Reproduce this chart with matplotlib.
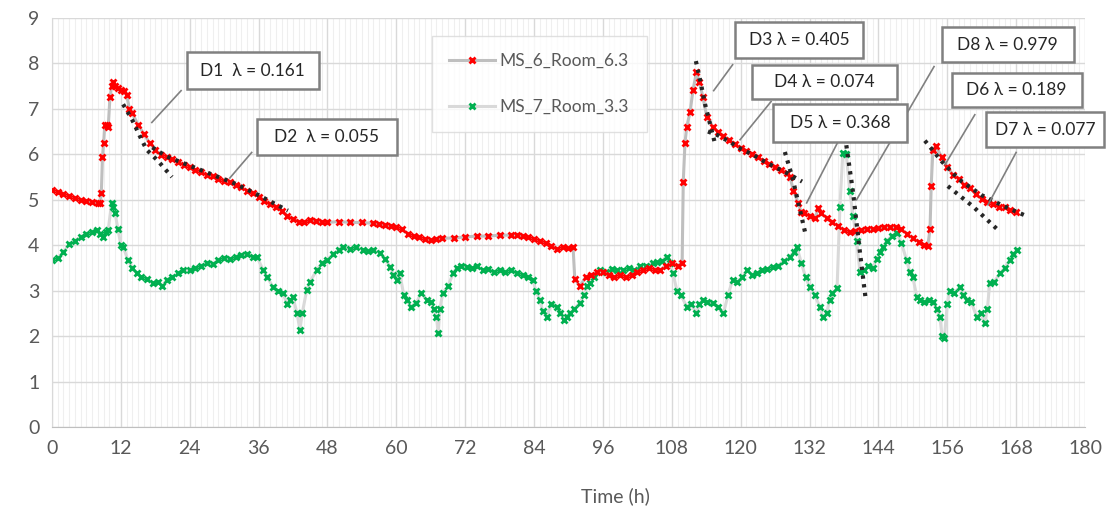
import numpy as np
import matplotlib
matplotlib.use("Agg")
from matplotlib import pyplot as plt
from matplotlib.patches import Rectangle
from matplotlib.ticker import MultipleLocator

plt.rcParams['font.family'] = ['Lato', 'DejaVu Sans']

# MS_6_Room_6.3 (red)
t_ms6 = [0, 1, 2, 3, 4, 5, 6, 7, 8, 8.4, 8.6, 8.8, 9.0, 9.2, 9.5, 9.8, 10.1, 10.4, 10.7, 11.0,
         11.5, 12.0, 12.5, 13.0, 13.5, 14, 15, 16, 17, 18, 19, 20, 21, 22, 23, 24, 25, 26, 27, 28,
         29, 30, 31, 32, 33, 34, 35, 36, 37, 38, 39, 40, 41, 42, 43, 44, 45, 46, 47, 48,
         50, 52, 54, 56, 57, 58, 59, 60, 61, 62, 63, 64, 65, 66, 67, 68, 70, 72, 74, 76,
         78, 80, 81, 82, 83, 84, 85, 86, 87, 88, 89, 90, 90.8, 91.1, 92, 93, 94, 95, 96, 97,
         98, 99, 100, 101, 102, 103, 104, 105, 106, 107, 108, 109, 109.8, 110.0, 110.3, 110.6,
         111.2, 111.7, 112.3, 112.8, 113.4, 114.1, 115.2, 116, 117, 118, 119, 120, 121, 122,
         123, 124, 125, 126, 127, 128, 128.6, 129.2, 130, 130.6, 131, 132, 133, 133.5, 134, 135,
         136, 137, 138, 139, 140, 141, 142, 143, 144, 145, 146, 147, 148, 149, 150, 151, 152,
         152.6, 153.0, 153.2, 153.5, 154.0, 155, 156, 157, 158, 159, 160, 161, 162, 163, 164,
         165, 166, 167, 168]
v_ms6 = [5.22, 5.18, 5.13, 5.08, 5.04, 5.0, 4.97, 4.94, 4.92, 4.92, 5.15, 5.95, 6.25, 6.65, 6.65,
         6.6, 7.25, 7.5, 7.6, 7.5, 7.45, 7.42, 7.4, 7.3, 7.0, 6.9, 6.65, 6.45, 6.25, 6.1, 5.98,
         5.93, 5.9, 5.83, 5.77, 5.72, 5.66, 5.6, 5.55, 5.52, 5.46, 5.42, 5.38, 5.33, 5.27, 5.2,
         5.15, 5.07, 4.98, 4.9, 4.85, 4.75, 4.65, 4.58, 4.52, 4.5, 4.55, 4.53, 4.52, 4.5,
         4.52, 4.5, 4.5, 4.48, 4.47, 4.45, 4.43, 4.4, 4.35, 4.25, 4.2, 4.17, 4.13, 4.12, 4.14,
         4.15, 4.16, 4.18, 4.2, 4.2, 4.22, 4.22, 4.23, 4.2, 4.17, 4.14, 4.1, 4.05, 3.98, 3.92,
         3.95, 3.94, 3.95, 3.25, 3.1, 3.3, 3.35, 3.4, 3.4, 3.35, 3.3, 3.35, 3.3, 3.35, 3.4, 3.45,
         3.5, 3.45, 3.45, 3.55, 3.6, 3.55, 3.6, 5.4, 6.25, 6.6, 6.94, 7.42, 7.8, 7.6, 7.27, 6.83,
         6.6, 6.5, 6.4, 6.32, 6.22, 6.14, 6.08, 6.0, 5.93, 5.85, 5.78, 5.72, 5.66, 5.58, 5.5,
         5.2, 4.93, 4.72, 4.7, 4.65, 4.6, 4.82, 4.7, 4.6, 4.5, 4.42, 4.33, 4.3, 4.32, 4.33, 4.35,
         4.36, 4.37, 4.4, 4.4, 4.4, 4.35, 4.25, 4.15, 4.08, 4.0, 3.98, 4.35, 5.3, 6.1, 6.18,
         5.95, 5.72, 5.55, 5.45, 5.33, 5.25, 5.12, 5.02, 4.95, 4.9, 4.85, 4.83, 4.78, 4.74]

# MS_7_Room_3.3 (green)
t_ms7 = [0, 1, 2, 3, 4, 5, 6, 7, 7.8, 8.4, 8.9, 9.4, 9.8, 10.4, 10.7, 11.0, 11.5, 12.0, 12.4,
         13.2, 14, 14.8, 15.5, 16.5, 17.6, 18.5, 19.2, 20, 21, 22, 22.8, 24, 25, 26, 27, 28,
         29, 30, 31, 32, 33, 34, 35, 35.7, 36.8, 37.5, 38.5, 39.3, 40.2, 41, 41.5, 42, 42.7,
         43.2, 43.6, 44.4, 45, 46.1, 47, 47.9, 49, 50, 50.7, 52, 53, 54.2, 55, 56, 57.1, 58,
         58.9, 59.5, 60.2, 60.6, 61.3, 61.8, 62.5, 63.5, 64.3, 65.3, 66, 66.5, 67, 67.3, 67.6,
         68.1, 69, 69.9, 70.5, 71.3, 72.3, 73.2, 74, 75.1, 76, 77, 78, 79, 80, 81, 82, 83,
         83.8, 84.3, 85, 85.5, 86.2, 87, 88, 88.6, 89.3, 89.7, 90.2, 91, 92, 92.7, 93.3, 93.7,
         94.5, 95.5, 96.5, 97.5, 98.5, 99.5, 100.5, 101.5, 102.5, 103.5, 104.7, 105.5, 106.3,
         107.1, 107.7, 108.2, 108.9, 109.6, 110.6, 111.3, 112.3, 112.8, 113.4, 114.2, 115.2,
         116, 117, 117.8, 118.6, 119.4, 120.3, 121.1, 122, 122.8, 123.7, 124.6, 125.6, 126.5,
         127.5, 128.6, 129.3, 129.8, 130.6, 131.3, 132, 132.9, 133.8, 134.3, 135, 135.5, 136,
         136.8, 137.3, 137.8, 138.4, 139, 139.6, 140.2, 140.8, 141.5, 142.2, 143, 143.7, 144.3,
         144.8, 145.5, 146.3, 147.2, 148, 148.9, 149.5, 150, 150.7, 151.2, 152, 152.8, 153.5,
         154.2, 154.7, 155.1, 155.5, 156, 156.4, 157.2, 158.2, 158.8, 159.4, 160.2, 161.1,
         161.8, 162.5, 163, 163.4, 164.2, 165.2, 166, 166.9, 167.5, 168.1]
v_ms7 = [3.68, 3.72, 3.85, 4.02, 4.1, 4.18, 4.25, 4.3, 4.34, 4.25, 4.18, 4.3, 4.34, 4.93, 4.85,
         4.7, 4.35, 4.0, 3.97, 3.68, 3.5, 3.38, 3.3, 3.25, 3.17, 3.2, 3.1, 3.24, 3.3, 3.38, 3.45,
         3.45, 3.5, 3.55, 3.6, 3.58, 3.68, 3.72, 3.7, 3.75, 3.78, 3.8, 3.75, 3.75, 3.45, 3.3,
         3.08, 3.0, 2.95, 2.7, 2.8, 2.85, 2.5, 2.14, 2.5, 3.02, 3.2, 3.45, 3.6, 3.68, 3.8, 3.9,
         3.97, 3.92, 3.95, 3.9, 3.88, 3.9, 3.83, 3.7, 3.53, 3.35, 3.24, 3.38, 2.9, 2.8, 2.65,
         2.73, 2.95, 2.8, 2.75, 2.6, 2.43, 2.06, 2.6, 2.95, 3.1, 3.38, 3.5, 3.55, 3.53, 3.5,
         3.55, 3.45, 3.48, 3.4, 3.45, 3.4, 3.45, 3.38, 3.35, 3.3, 3.24, 3.0, 2.8, 2.55, 2.43,
         2.7, 2.65, 2.5, 2.35, 2.43, 2.5, 2.6, 2.73, 2.9, 3.1, 3.17, 3.3, 3.45, 3.4, 3.48, 3.45,
         3.45, 3.5, 3.45, 3.55, 3.55, 3.6, 3.62, 3.65, 3.75, 3.6, 3.38, 3.0, 2.9, 2.65, 2.7,
         2.5, 2.7, 2.8, 2.75, 2.73, 2.65, 2.5, 2.9, 3.24, 3.2, 3.3, 3.45, 3.35, 3.38, 3.45,
         3.48, 3.53, 3.55, 3.65, 3.75, 3.85, 3.96, 3.6, 3.3, 3.08, 2.9, 2.65, 2.42, 2.5, 2.8,
         2.95, 3.05, 4.85, 6.03, 6.0, 5.2, 4.65, 4.1, 3.4, 3.45, 3.55, 3.5, 3.7, 3.85, 3.96,
         4.1, 4.2, 4.27, 4.05, 3.68, 3.4, 3.3, 2.86, 2.8, 2.75, 2.8, 2.74, 2.6, 2.43, 2.0, 1.96,
         2.7, 3.0, 2.95, 3.08, 2.9, 2.8, 2.75, 2.43, 2.5, 2.29, 2.6, 3.17, 3.2, 3.38, 3.5,
         3.68, 3.8, 3.9]

# decay fit lines (dotted)
fit_t = [
    [12.4, 14, 15.5, 16.5, 18.5, 20.9],
    [17.5, 20, 24, 28, 32, 36, 41.1],
    [112.2, 113, 113.8, 114.6, 115.5],
    [114.3, 116, 118, 120, 122, 124, 126, 128.6, 130.7],
    [127.7, 129, 130.2, 131.2],
    [138.2, 139.6, 140.8, 141.8],
    [156.1, 160.5, 164.8],
    [152.1, 155, 158, 162, 166, 170],
]
fit_v = [
    [7.1, 6.75, 6.35, 6.1, 5.85, 5.5],
    [6.15, 5.95, 5.75, 5.55, 5.35, 5.1, 4.76],
    [8.05, 7.6, 7.1, 6.7, 6.25],
    [6.5, 6.42, 6.28, 6.12, 6.0, 5.85, 5.72, 5.55, 5.4],
    [6.05, 5.5, 4.85, 4.3],
    [6.39, 5.15, 3.83, 2.8],
    [5.3, 4.85, 4.34],
    [6.3, 5.85, 5.45, 5.1, 4.85, 4.63],
]

# annotation labels
ann_text = ["D1  λ = 0.161", "D2  λ = 0.055", "D3 λ = 0.405", "D4 λ = 0.074",
            "D5 λ = 0.368", "D8 λ = 0.979", "D6 λ = 0.189", "D7 λ = 0.077"]
# box extents (x0, x1, y0, y1) and leader lines (x0, y0, x1, y1)
ann_box = [(23.5, 46.5, 7.44, 8.24), (35.7, 60.1, 5.99, 6.78), (119.0, 141.3, 8.11, 8.90),
           (122.0, 147.2, 7.22, 7.97), (125.6, 149.0, 6.28, 7.11), (155.1, 178.0, 8.02, 8.81),
           (156.8, 179.4, 7.03, 7.78), (162.7, 183.4, 6.17, 6.92)]
ann_lead = [(22.5, 7.4, 17.4, 6.7), (34.8, 6.04, 31.0, 5.48), (118.6, 7.97, 115.3, 7.4),
            (125.3, 7.16, 119.9, 6.32), (136.9, 6.26, 131.5, 4.93), (153.7, 7.93, 140.2, 5.0),
            (160.8, 6.87, 155.6, 5.77), (168.0, 6.04, 163.1, 4.89)]

txt = '#595959'
fig = plt.figure(figsize=(11.06, 5.12), dpi=100)
ax = fig.add_axes([0.047, 0.166, 0.934, 0.799])

ax.plot(t_ms6, v_ms6, color='#bfbfbf', lw=2.2, marker='x', ms=4.5, mew=2,
        mec='#ff0000', mfc='#ff0000', label='MS_6_Room_6.3', zorder=3)
ax.plot(t_ms7, v_ms7, color='#d9d9d9', lw=2.2, marker='x', ms=4.5, mew=2,
        mec='#00b050', mfc='#00b050', label='MS_7_Room_3.3', zorder=2)

for ft, fv in zip(fit_t, fit_v):
    ax.plot(ft, fv, color='#262626', lw=3, ls=(0, (0.8, 1.3)), zorder=4)

for label, (x0, x1, y0, y1), (lx0, ly0, lx1, ly1) in zip(ann_text, ann_box, ann_lead):
    ax.plot([lx0, lx1], [ly0, ly1], color='#808080', lw=1.2, zorder=5)
    ax.add_patch(Rectangle((x0, y0), x1 - x0, y1 - y0, facecolor='white',
                           edgecolor='#808080', lw=1.8, zorder=6, clip_on=False))
    ax.text((x0 + x1) / 2, (y0 + y1) / 2, label, ha='center', va='center',
            fontsize=12.5, color='#262626', zorder=7, clip_on=False)

ax.set_xlim(0, 180)
ax.set_ylim(0, 9)
ax.xaxis.set_major_locator(MultipleLocator(12))
ax.xaxis.set_minor_locator(MultipleLocator(1))
ax.yaxis.set_major_locator(MultipleLocator(1))
ax.grid(True, which='major', color='#d9d9d9', lw=1)
ax.grid(True, which='minor', axis='x', color='#efefef', lw=0.8)
ax.set_axisbelow(True)
for s in ['top', 'right']:
    ax.spines[s].set_visible(False)
ax.spines['left'].set_color('#d9d9d9')
ax.spines['bottom'].set_color('#bfbfbf')
ax.tick_params(which='both', length=0, labelsize=14, colors=txt, pad=9)
ax.set_xlabel('Time (h)', fontsize=14, color=txt)
ax.xaxis.set_label_coords(0.545, -0.148)

leg = ax.legend(loc='upper left', bbox_to_anchor=(0.368, 0.956), frameon=True,
                fancybox=False, edgecolor='#d9d9d9', fontsize=12.5, labelspacing=1.7,
                handlelength=2.6, handletextpad=0.3, borderpad=1.0, borderaxespad=0)
for t in leg.get_texts():
    t.set_color(txt)
leg.set_zorder(8)

plt.savefig('out.png', dpi=100)
